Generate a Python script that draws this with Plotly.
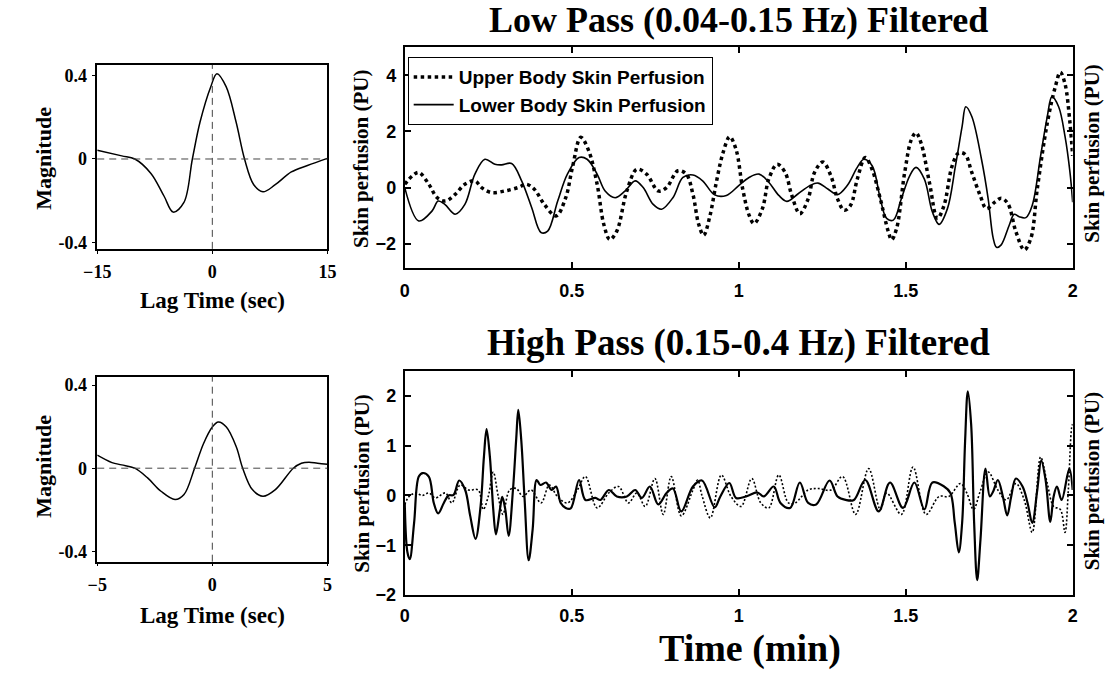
import plotly.graph_objects as go

W, H = 1113, 674

# ---------------- data ----------------
# cross-correlation, low-pass band: (lag sec, magnitude)
cc_low = [(-15, 0.042), (-11.8, 0.015), (-10.1, 0.0), (-8.0, -0.069), (-6.3, -0.177),
          (-5.1, -0.254), (-3.7, -0.208), (-2.6, 0.0), (-1.6, 0.177), (-0.2, 0.346),
          (0.6, 0.408), (1.8, 0.346), (3.1, 0.177), (4.2, 0.0), (5.4, -0.123),
          (6.6, -0.157), (8.2, -0.123), (10.3, -0.062), (12.4, -0.031), (15, 0.003)]

# cross-correlation, high-pass band
cc_high = [(-5, 0.063), (-4.36, 0.027), (-3.94, 0.016), (-3.37, 0.0), (-2.8, -0.048),
           (-2.23, -0.111), (-1.62, -0.151), (-1.23, -0.127), (-0.77, 0.0), (-0.38, 0.119),
           (0.0, 0.198), (0.26, 0.222), (0.61, 0.198), (1.04, 0.103), (1.32, 0.0),
           (1.74, -0.103), (2.2, -0.135), (2.74, -0.103), (3.52, 0.0), (3.87, 0.024),
           (4.2, 0.029), (4.57, 0.024), (5, 0.019)]

# low-pass filtered perfusion: (time min, PU)
lp_upper = [(0, 0.12), (0.023, 0.42), (0.042, 0.54), (0.072, 0.12), (0.097, -0.36),
            (0.122, -0.48), (0.151, -0.24), (0.18, 0.12), (0.21, 0.24), (0.23, 0.0),
            (0.26, -0.18), (0.3, -0.12), (0.339, 0.0), (0.364, 0.12), (0.388, -0.06),
            (0.418, -0.6), (0.453, -1.01), (0.482, -0.36), (0.502, 0.71), (0.527, 1.79),
            (0.551, 1.31), (0.576, 0.12), (0.596, -1.31), (0.614, -1.85), (0.635, -1.55),
            (0.665, -0.12), (0.695, 0.65), (0.724, 0.48), (0.759, -0.12), (0.784, 0.0),
            (0.818, 0.6), (0.843, 0.48), (0.863, -0.24), (0.88, -1.3), (0.895, -1.7),
            (0.914, -1.0), (0.933, 0.19), (0.953, 1.24), (0.973, 1.81), (0.992, 1.36),
            (1.012, -0.05), (1.031, -0.98), (1.046, -1.28), (1.071, -0.75), (1.09, 0.3),
            (1.115, 0.83), (1.139, 0.54), (1.159, -0.28), (1.183, -0.93), (1.208, -0.4),
            (1.227, 0.54), (1.252, 0.91), (1.276, 0.42), (1.296, -0.4), (1.316, -0.81),
            (1.335, -0.63), (1.355, 0.3), (1.379, 1.07), (1.399, 0.66), (1.424, -0.4),
            (1.448, -1.57), (1.458, -1.86), (1.473, -1.45), (1.497, 0.54), (1.517, 1.71),
            (1.531, 1.95), (1.546, 1.59), (1.571, 0.19), (1.595, -1.1), (1.615, -0.63),
            (1.639, 0.77), (1.659, 1.24), (1.678, 1.18), (1.698, 0.54), (1.723, -0.28),
            (1.742, -0.75), (1.767, -0.52), (1.786, -0.38), (1.806, -0.57), (1.83, -1.57),
            (1.855, -2.22), (1.875, -1.8), (1.894, -0.05), (1.924, 2.3), (1.948, 3.59),
            (1.963, 4.11), (1.977, 3.7), (1.992, 2.3), (2.0, 1.13)]

lp_lower = [(0, 0.0), (0.042, -1.19), (0.082, -0.83), (0.10, -0.48), (0.12, -0.6),
            (0.151, -0.95), (0.18, -0.6), (0.21, 0.48), (0.24, 1.01), (0.27, 0.83),
            (0.29, 0.81), (0.32, 0.86), (0.35, 0.24), (0.38, -0.71), (0.408, -1.6),
            (0.428, -1.55), (0.458, -0.48), (0.487, 0.48), (0.522, 1.07), (0.546, 1.01),
            (0.576, 0.48), (0.6, -0.12), (0.63, -0.36), (0.66, -0.12), (0.69, 0.24),
            (0.714, 0.0), (0.744, -0.6), (0.769, -0.77), (0.803, -0.36), (0.833, 0.36),
            (0.863, 0.45), (0.892, 0.24), (0.928, -0.26), (0.963, -0.28), (1.0, 0.07),
            (1.031, 0.36), (1.061, 0.48), (1.09, 0.19), (1.12, -0.28), (1.144, -0.49),
            (1.178, -0.22), (1.213, 0.07), (1.237, 0.16), (1.267, -0.05), (1.296, -0.25),
            (1.325, 0.07), (1.355, 0.72), (1.375, 1.01), (1.4, 0.77), (1.424, -0.4),
            (1.443, -1.1), (1.463, -1.16), (1.487, -0.4), (1.512, 0.42), (1.531, 0.72),
            (1.556, 0.3), (1.58, -0.87), (1.6, -1.31), (1.625, -0.75), (1.649, 0.77),
            (1.669, 2.18), (1.68, 2.88), (1.698, 2.53), (1.727, 1.01), (1.747, -0.4),
            (1.762, -1.8), (1.772, -2.13), (1.786, -2.04), (1.81, -1.34), (1.825, -0.95),
            (1.84, -1.04), (1.86, -1.07), (1.879, -0.63), (1.904, 1.13), (1.924, 2.53),
            (1.938, 3.24), (1.958, 2.88), (1.977, 1.83), (1.992, 0.54), (2.0, -0.52)]

# high-pass filtered perfusion
hp_upper = [(0, -0.18), (0.013, -0.02), (0.033, 0.05), (0.052, 0.0), (0.072, 0.05),
            (0.092, -0.05), (0.122, 0.05), (0.141, -0.15), (0.166, 0.21), (0.191, 0.11),
            (0.22, 0.11), (0.235, -0.28), (0.25, -0.02), (0.265, 0.47), (0.28, -0.02),
            (0.294, -0.38), (0.314, 0.11), (0.334, 0.14), (0.354, -0.02), (0.378, 0.11),
            (0.408, -0.15), (0.433, 0.21), (0.457, -0.02), (0.487, -0.15), (0.517, 0.11),
            (0.541, 0.38), (0.576, -0.25), (0.611, 0.05), (0.64, 0.18), (0.67, -0.15),
            (0.695, 0.05), (0.72, -0.22), (0.749, 0.34), (0.774, -0.38), (0.798, 0.38),
            (0.828, -0.41), (0.863, 0.11), (0.877, 0.31), (0.89, 0.0), (0.915, -0.45),
            (0.948, 0.41), (0.977, -0.02), (1.007, -0.22), (1.039, 0.34), (1.066, -0.15),
            (1.09, -0.25), (1.12, 0.41), (1.149, -0.15), (1.169, -0.15), (1.208, 0.11),
            (1.237, 0.14), (1.276, 0.11), (1.311, 0.38), (1.35, -0.38), (1.389, 0.54),
            (1.424, -0.28), (1.443, 0.05), (1.487, -0.38), (1.522, 0.57), (1.561, -0.38),
            (1.6, -0.02), (1.629, -0.02), (1.664, 0.24), (1.683, 0.05), (1.703, -0.28),
            (1.723, 0.08), (1.747, 0.47), (1.776, 0.11), (1.801, -0.09), (1.83, 0.24),
            (1.855, -0.09), (1.879, -0.74), (1.904, 0.77), (1.924, 0.24), (1.943, -0.22),
            (1.963, -0.28), (1.977, -0.74), (1.987, 0.11), (1.997, 1.36), (2.0, 1.43)]

hp_lower = [(0, -0.15), (0.008, -1.14), (0.015, -1.28), (0.028, -0.55), (0.042, 0.38),
            (0.054, 0.45), (0.072, 0.38), (0.087, -0.15), (0.1, -0.36), (0.117, -0.15),
            (0.131, 0.0), (0.146, 0.01), (0.163, 0.3), (0.181, 0.11), (0.196, -0.41),
            (0.212, -0.87), (0.227, -0.22), (0.237, 0.77), (0.245, 1.33), (0.255, 0.77),
            (0.265, -0.28), (0.273, -0.78), (0.285, -0.28), (0.292, -0.03), (0.301, -0.28),
            (0.311, -0.81), (0.324, 0.11), (0.334, 1.16), (0.34, 1.72), (0.349, 1.1),
            (0.359, -0.09), (0.371, -1.3), (0.383, -0.68), (0.395, 0.31), (0.406, 0.21),
            (0.423, 0.26), (0.44, 0.11), (0.453, 0.18), (0.467, -0.15), (0.482, -0.25),
            (0.497, -0.26), (0.522, 0.31), (0.541, -0.09), (0.571, -0.05), (0.586, -0.09),
            (0.611, 0.11), (0.635, -0.02), (0.665, -0.02), (0.69, 0.11), (0.71, -0.05),
            (0.734, 0.18), (0.759, -0.18), (0.784, 0.05), (0.803, 0.14), (0.828, -0.32),
            (0.863, 0.18), (0.89, 0.3), (0.928, -0.24), (0.945, -0.02), (0.972, 0.25),
            (0.992, -0.05), (1.022, -0.02), (1.056, 0.06), (1.075, -0.02), (1.105, 0.18),
            (1.125, -0.15), (1.154, -0.25), (1.183, 0.26), (1.208, -0.15), (1.232, -0.18),
            (1.272, 0.3), (1.296, -0.02), (1.32, -0.09), (1.345, -0.09), (1.379, 0.31),
            (1.419, -0.32), (1.453, 0.26), (1.492, -0.25), (1.526, 0.26), (1.556, -0.28),
            (1.58, 0.26), (1.615, 0.18), (1.634, 0.05), (1.647, -0.55), (1.659, -1.14),
            (1.669, -0.55), (1.678, 1.1), (1.686, 2.09), (1.696, 1.43), (1.705, -0.55),
            (1.714, -1.7), (1.724, -0.88), (1.739, 0.54), (1.752, -0.02), (1.762, 0.08),
            (1.776, 0.31), (1.791, -0.02), (1.804, -0.4), (1.816, -0.02), (1.83, 0.34),
            (1.85, 0.18), (1.865, -0.15), (1.879, -0.55), (1.894, 0.11), (1.906, 0.7),
            (1.919, 0.31), (1.933, -0.53), (1.943, -0.02), (1.953, 0.18), (1.967, -0.09),
            (1.99, 0.54), (2.0, 0.11)]

time_ticks = [0, 0.5, 1, 1.5, 2]
time_ticktext = ["0", "0.5", "1", "1.5", "2"]
lp_yticks = [-2, 0, 2, 4]
hp_yticks = [-2, -1, 0, 1, 2]
mag_ticks = [-0.4, 0, 0.4]
mag_ticktext = ["-0.4", "0", "0.4"]
lag_ticks_low = [-15, 0, 15]
lag_ticks_high = [-5, 0, 5]

legend_names = ["Upper Body Skin Perfusion", "Lower Body Skin Perfusion"]


def unzip(pairs):
    return [p[0] for p in pairs], [p[1] for p in pairs]


fig = go.Figure()

x, y = unzip(cc_low)
fig.add_trace(go.Scatter(x=x, y=y, mode="lines", line=dict(color="black", width=1.5, shape="spline"),
                         showlegend=False, xaxis="x", yaxis="y"))
x, y = unzip(cc_high)
fig.add_trace(go.Scatter(x=x, y=y, mode="lines", line=dict(color="black", width=1.5, shape="spline"),
                         showlegend=False, xaxis="x2", yaxis="y2"))

x, y = unzip(lp_upper)
fig.add_trace(go.Scatter(x=x, y=y, mode="lines", name=legend_names[0],
                         line=dict(color="black", width=3.5, dash="3.5px,3.5px", shape="spline"),
                         xaxis="x3", yaxis="y3"))
x, y = unzip(lp_lower)
fig.add_trace(go.Scatter(x=x, y=y, mode="lines", name=legend_names[1],
                         line=dict(color="black", width=1.6, shape="spline"),
                         xaxis="x3", yaxis="y3"))

x, y = unzip(hp_upper)
fig.add_trace(go.Scatter(x=x, y=y, mode="lines", showlegend=False,
                         line=dict(color="black", width=1.6, dash="2px,2px", shape="spline"),
                         xaxis="x4", yaxis="y4"))
x, y = unzip(hp_lower)
fig.add_trace(go.Scatter(x=x, y=y, mode="lines", showlegend=False,
                         line=dict(color="black", width=2.2, shape="spline"),
                         xaxis="x4", yaxis="y4"))

serif = "Liberation Serif"
sans = "Liberation Sans"


def dom_x(a, b):
    return [a / W, b / W]


def dom_y(top, bottom):
    return [1 - bottom / H, 1 - top / H]


left_tick_font = dict(family=serif, size=18, color="black", weight="bold")
right_tick_font = dict(family=sans, size=18, color="black", weight="bold")

common_left = dict(showline=True, linecolor="black", linewidth=1.5, mirror=True,
                   ticks="outside", ticklen=3, tickcolor="black", showgrid=False,
                   zeroline=False, tickfont=left_tick_font)
common_right = dict(showline=True, linecolor="black", linewidth=2, mirror="ticks",
                    ticks="inside", ticklen=6, tickwidth=1.5, tickcolor="black", showgrid=False,
                    zeroline=False, tickfont=right_tick_font)

fig.update_layout(
    width=W, height=H,
    margin=dict(l=0, r=0, t=0, b=0),
    paper_bgcolor="white", plot_bgcolor="white",
    xaxis=dict(domain=dom_x(85, 320), anchor="y", range=[-15, 15], tickvals=lag_ticks_low,
               ticklabelstandoff=3, **common_left),
    yaxis=dict(domain=dom_y(65, 252), anchor="x", range=[-0.43, 0.45], tickvals=mag_ticks,
               ticktext=mag_ticktext, ticklabelstandoff=2, **common_left),
    xaxis2=dict(domain=dom_x(85, 320), anchor="y2", range=[-5, 5], tickvals=lag_ticks_high,
                ticklabelstandoff=3, **common_left),
    yaxis2=dict(domain=dom_y(382, 570), anchor="x2", range=[-0.45, 0.44], tickvals=mag_ticks,
                ticktext=mag_ticktext, ticklabelstandoff=2, **common_left),
    xaxis3=dict(domain=dom_x(399, 1081), anchor="y3", range=[0, 2], tickvals=time_ticks,
                ticktext=time_ticktext, ticklabelstandoff=6, **common_right),
    yaxis3=dict(domain=dom_y(47, 271), anchor="x3", range=[-2.85, 5], tickvals=lp_yticks,
                ticklabelstandoff=3, **common_right),
    xaxis4=dict(domain=dom_x(399, 1081), anchor="y4", range=[0, 2], tickvals=time_ticks,
                ticktext=time_ticktext, ticklabelstandoff=3, **common_right),
    yaxis4=dict(domain=dom_y(376, 604), anchor="x4", range=[-2, 2.5], tickvals=hp_yticks,
                ticklabelstandoff=3, **common_right),
    legend=dict(x=402 / W, y=1 - 57 / H, xanchor="left", yanchor="top",
                bgcolor="white", bordercolor="black", borderwidth=1,
                font=dict(family=sans, size=19, color="black", weight="bold"),
                tracegroupgap=0, itemwidth=40),
)

# dashed reference lines in the lag panels
dash_line = dict(color="#444444", width=1, dash="7px,5px")
for xr, yr in (("x", "y"), ("x2", "y2")):
    fig.add_shape(type="line", xref=xr, yref=f"{yr} domain", x0=0, x1=0, y0=0, y1=1, line=dash_line)
    fig.add_shape(type="line", xref=f"{xr} domain", yref=yr, x0=0, x1=1, y0=0, y1=0, line=dash_line)


def ann(text, px, py, size, family=serif, angle=0):
    fig.add_annotation(text=text, x=px / W, y=1 - py / H, xref="paper", yref="paper",
                       showarrow=False, xanchor="center", yanchor="middle", textangle=angle,
                       font=dict(family=family, size=size, color="black", weight="bold"))


ann("Low Pass (0.04-0.15 Hz) Filtered", 740, 19, 36)
ann("High Pass (0.15-0.4 Hz) Filtered", 740, 348, 37)
ann("Time (min)", 752, 658, 38)
for yy in (160, 490):
    ann("Skin perfusion (PU)", 355, yy, 21, angle=-90)
for yy in (155, 488):
    ann("Skin perfusion (PU)", 1101, yy, 21, angle=-90)
ann("Magnitude", 30, 160, 22, angle=-90)
ann("Magnitude", 30, 473, 22, angle=-90)
ann("Lag Time (sec)", 203, 304, 23)
ann("Lag Time (sec)", 203, 625, 23)

fig.write_html("out.html")
